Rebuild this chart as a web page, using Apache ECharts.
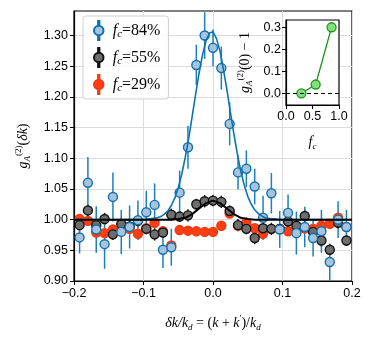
<!DOCTYPE html>
<html>
<head>
<meta charset="utf-8">
<script src="https://cdn.jsdelivr.net/npm/echarts@6/dist/echarts.min.js"></script>
<style>
html, body { margin: 0; padding: 0; background: #fff; }
#chart { width: 374px; height: 338px; }
</style>
</head>
<body>
<div id="chart"></div>
<script>
// δk/k_d positions of the measured points
const deltaK = [-0.192, -0.180, -0.168, -0.156, -0.144, -0.132, -0.120, -0.108, -0.096, -0.084, -0.072,
  -0.060, -0.048, -0.036, -0.024, -0.012, 0.000, 0.012, 0.024, 0.036, 0.048, 0.060,
  0.072, 0.084, 0.096, 0.108, 0.120, 0.132, 0.144, 0.156, 0.168, 0.180, 0.192]

// fc = 84%
const g84 = [0.971, 1.060, 0.984, 0.960, 1.037, 0.980, 0.988, 0.999, 1.012, 1.024, 0.951,
  0.955, 1.044, 1.118, 1.252, 1.300, 1.280, 1.247, 1.156, 1.077, 1.083, 1.054,
  1.003, 1.043, 0.984, 1.011, 0.978, 0.988, 0.970, 0.981, 0.931, 1.000, 0.988]
const g84Err = [0.026, 0.042, 0.038, 0.040, 0.040, 0.036, 0.035, 0.032, 0.035, 0.035, 0.030,
  0.030, 0.036, 0.035, 0.033, 0.038, 0.030, 0.035, 0.035, 0.028, 0.030, 0.029,
  0.036, 0.033, 0.030, 0.030, 0.035, 0.033, 0.030, 0.035, 0.030, 0.030, 0.028]
// fc = 55%
const g55 = [0.991, 1.015, 0.991, 1.001, 0.976, 0.993, 0.989, 0.998, 0.985, 0.976, 0.979,
  1.008, 1.005, 1.007, 1.025, 1.030, 1.031, 1.029, 1.014, 0.991, 0.985, 0.970,
  0.986, 0.985, 0.985, 0.997, 0.990, 1.006, 0.980, 0.966, 0.951, 0.995, 0.966]
const g55Err = [0.010, 0.010, 0.009, 0.010, 0.009, 0.010, 0.009, 0.010, 0.009, 0.010, 0.009,
  0.010, 0.009, 0.010, 0.009, 0.010, 0.009, 0.010, 0.009, 0.010, 0.009, 0.010,
  0.009, 0.010, 0.009, 0.010, 0.009, 0.010, 0.009, 0.010, 0.009, 0.010, 0.009]
// fc = 29%
const g29 = [1.001, 0.998, 0.979, 0.978, 0.984, 0.983, 0.985, 0.977, 0.986, 0.995, 0.981,
  0.958, 0.983, 0.982, 0.981, 0.980, 0.980, 0.990, 1.010, 0.990, 0.995, 0.986,
  0.977, 0.985, 0.985, 0.981, 0.981, 0.986, 0.985, 0.990, 0.993, 1.003, 0.988]
const g29Err = [0.006, 0.006, 0.005, 0.006, 0.005, 0.006, 0.005, 0.006, 0.005, 0.006, 0.005,
  0.006, 0.005, 0.006, 0.005, 0.006, 0.005, 0.006, 0.005, 0.006, 0.005, 0.006,
  0.005, 0.006, 0.005, 0.006, 0.005, 0.006, 0.005, 0.006, 0.005, 0.006, 0.005]

// fit curves
const fit84X = [-0.2, -0.1, -0.08, -0.075, -0.07, -0.065, -0.06, -0.055, -0.05, -0.045, -0.04,
  -0.035, -0.03, -0.025, -0.02, -0.015, -0.01, -0.005, 0, 0.005, 0.01, 0.015, 0.02,
  0.025, 0.03, 0.035, 0.04, 0.045, 0.05, 0.055, 0.06, 0.065, 0.07, 0.075, 0.08, 0.1, 0.2]
const fit84Y = [1.0, 1.0, 1.003, 1.005, 1.009, 1.014, 1.023, 1.035, 1.052, 1.074, 1.101,
  1.132, 1.168, 1.204, 1.239, 1.269, 1.292, 1.304, 1.306, 1.295, 1.275, 1.245, 1.212,
  1.175, 1.140, 1.107, 1.079, 1.056, 1.038, 1.025, 1.016, 1.010, 1.006, 1.003, 1.002, 1.0, 1.0]
const fit55X = [-0.2, -0.06, -0.05, -0.04, -0.03, -0.02, -0.01, 0, 0.01, 0.02, 0.03, 0.04, 0.05, 0.06, 0.2]
const fit55Y = [1.0, 1.0, 1.001, 1.003, 1.009, 1.018, 1.027, 1.031, 1.027, 1.018, 1.009, 1.003, 1.001, 1.0, 1.0]

// inset
const fcValues = [0.29, 0.56, 0.86]
const g0Minus1 = [0.0, 0.04, 0.30]

const yTicks = [0.90, 0.95, 1.00, 1.05, 1.10, 1.15, 1.20, 1.25, 1.30]
const insetYTicks = [0.0, 0.1, 0.2, 0.3]
const legendNames = ['84%', '55%', '29%']

const sans = 'Liberation Sans'
const serif = 'Liberation Serif'
const minus = v => String(v).replace('-', '\u2212')

const mathRich = {
  i: { fontFamily: serif, fontStyle: 'italic', fontSize: 14, color: '#000', lineHeight: 18 },
  r: { fontFamily: serif, fontSize: 14, color: '#000', lineHeight: 18 },
  s: { fontFamily: serif, fontStyle: 'italic', fontSize: 9, color: '#000', verticalAlign: 'bottom', lineHeight: 9 },
  p: { fontFamily: serif, fontSize: 9, color: '#000', verticalAlign: 'top', lineHeight: 9 }
}
const legendRich = {
  i: { fontFamily: serif, fontStyle: 'italic', fontSize: 16, color: '#000', lineHeight: 19 },
  r: { fontFamily: serif, fontSize: 16, color: '#000', lineHeight: 19 },
  s: { fontFamily: serif, fontStyle: 'italic', fontSize: 11, color: '#000', verticalAlign: 'bottom', lineHeight: 10 }
}

function errorBars (vals, errs, color) {
  return {
    type: 'custom',
    xAxisIndex: 0,
    yAxisIndex: 0,
    silent: true,
    clip: true,
    data: deltaK.map((x, i) => [x, vals[i], errs[i]]),
    encode: { x: 0, y: 1 },
    renderItem: function (params, api) {
      const lo = api.coord([api.value(0), api.value(1) - api.value(2)])
      const hi = api.coord([api.value(0), api.value(1) + api.value(2)])
      return {
        type: 'line',
        shape: { x1: lo[0], y1: lo[1], x2: hi[0], y2: hi[1] },
        style: { stroke: color, lineWidth: 1.5 }
      }
    }
  }
}

function points (name, vals, fill, edge) {
  return {
    name: name,
    type: 'scatter',
    xAxisIndex: 0,
    yAxisIndex: 0,
    symbolSize: 9,
    data: deltaK.map((x, i) => [x, vals[i]]),
    itemStyle: { color: fill, borderColor: edge, borderWidth: 1.4, opacity: 1 }
  }
}

const legendIcon = 'path://M4.4,0h1.2v4.5h-1.2z M4.4,13.5h1.2v4.5h-1.2z M0.5,9a4.5,4.5 0 1,0 9,0a4.5,4.5 0 1,0 -9,0z'

const axisLineStyle = { show: true, onZero: false, lineStyle: { color: '#000', width: 1.2 } }

const chart = echarts.init(document.getElementById('chart'))
chart.setOption({
  animation: false,
  backgroundColor: '#fff',
  grid: [
    { left: 74, top: 11, right: 22, bottom: 57, show: true, borderColor: '#000', borderWidth: 1.2, backgroundColor: '#fff' },
    { left: 286, top: 20, width: 53, height: 85, show: true, borderColor: '#000', borderWidth: 1.2, backgroundColor: '#fff', z: 1 }
  ],
  legend: {
    data: legendNames,
    orient: 'vertical',
    left: 83,
    top: 16,
    padding: [4, 8, 4, 10],
    itemGap: 6,
    itemWidth: 10,
    itemHeight: 19,
    icon: legendIcon,
    borderColor: '#d0d0d0',
    borderWidth: 1,
    borderRadius: 3,
    backgroundColor: 'rgba(255,255,255,0.85)',
    formatter: name => '{i| f}{s|c}{r|=' + name + '}',
    textStyle: { rich: legendRich }
  },
  xAxis: [
    {
      type: 'value', gridIndex: 0, min: -0.2, max: 0.2, interval: 0.1,
      name: '{i|δk/k}{s|d}{r| = (}{i|k}{r| + }{i|k}{p|\u2032}{r|)/}{i|k}{s|d}',
      nameLocation: 'middle', nameGap: 33,
      nameTextStyle: { rich: mathRich },
      axisLine: axisLineStyle,
      axisTick: { show: true, length: 4, lineStyle: { color: '#000' } },
      axisLabel: { color: '#000', fontFamily: sans, fontSize: 12.5, margin: 6, formatter: v => minus(v.toFixed(1)) },
      splitLine: { show: true, lineStyle: { color: '#dcdcdc', width: 1 } }
    },
    {
      type: 'value', gridIndex: 1, min: 0, max: 1, interval: 0.5, z: 1,
      name: '{i|f}{s|c}',
      nameLocation: 'middle', nameGap: 28,
      nameTextStyle: { rich: mathRich },
      axisLine: axisLineStyle,
      axisTick: { show: true, length: 4, lineStyle: { color: '#000' } },
      axisLabel: { color: '#000', fontFamily: sans, fontSize: 12.5, margin: 5, formatter: v => v.toFixed(1) },
      splitLine: { show: false }
    }
  ],
  yAxis: [
    {
      type: 'value', gridIndex: 0, min: 0.9, max: 1.34, interval: 0.05,
      name: '{i|g}{s|A}{p|(2)}{r|(}{i|δk}{r|)}',
      nameLocation: 'middle', nameGap: 42,
      nameTextStyle: { rich: mathRich },
      axisLine: axisLineStyle,
      axisTick: { show: true, length: 4, lineStyle: { color: '#000' }, customValues: yTicks },
      axisLabel: { color: '#000', fontFamily: sans, fontSize: 12.5, margin: 6, customValues: yTicks, formatter: v => v.toFixed(2) },
      splitLine: { show: true, lineStyle: { color: '#dcdcdc', width: 1 } }
    },
    {
      type: 'value', gridIndex: 1, min: -0.053, max: 0.333, z: 1,
      name: '{i|g}{s|A}{p|(2)}{r|(0) \u2212 1}',
      nameLocation: 'middle', nameGap: 32,
      nameTextStyle: { rich: mathRich },
      axisLine: axisLineStyle,
      axisTick: { show: true, length: 4, lineStyle: { color: '#000' }, customValues: insetYTicks },
      axisLabel: { color: '#000', fontFamily: sans, fontSize: 12.5, margin: 5, customValues: insetYTicks, formatter: v => v.toFixed(1) },
      splitLine: { show: false }
    }
  ],
  series: [
    errorBars(g29, g29Err, '#ff3d12'),
    points('29%', g29, '#ff3d12', '#f03a10'),
    errorBars(g55, g55Err, '#111'),
    points('55%', g55, '#6e6e6e', '#111'),
    {
      type: 'line', xAxisIndex: 0, yAxisIndex: 0, showSymbol: false, silent: true,
      data: fit84X.map((x, i) => [x, fit84Y[i]]),
      lineStyle: { color: '#0b74ae', width: 1.6 }
    },
    {
      type: 'line', xAxisIndex: 0, yAxisIndex: 0, showSymbol: false, silent: true,
      data: fit55X.map((x, i) => [x, fit55Y[i]]),
      lineStyle: { color: '#000', width: 2 }
    },
    errorBars(g84, g84Err, '#1d80bb'),
    points('84%', g84, '#a6c4e0', '#1270ac'),
    {
      type: 'line', xAxisIndex: 1, yAxisIndex: 1, z: 3,
      symbol: 'circle', symbolSize: 9,
      data: fcValues.map((x, i) => [x, g0Minus1[i]]),
      itemStyle: { color: '#80e07c', borderColor: '#1e961e', borderWidth: 1.3 },
      lineStyle: { color: '#1e961e', width: 1.3 },
      markLine: {
        silent: true, symbol: ['none', 'none'], label: { show: false },
        lineStyle: { color: '#000', type: [4, 3], width: 1.2 },
        data: [{ yAxis: 0 }]
      }
    }
  ]
})
</script>
</body>
</html>
